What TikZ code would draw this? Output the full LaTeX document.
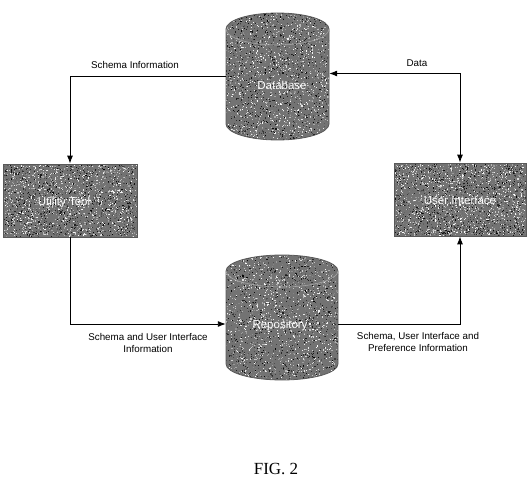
\documentclass[tikz,border=0pt]{standalone}
\usepackage{fontspec}
\setmainfont{Liberation Sans}
\newfontfamily\figfont{Liberation Serif}
\usetikzlibrary{arrows.meta}
\newcommand{\speckle}[4]{%
  \foreach \k in {1,...,2600}{%
    \pgfmathsetmacro\px{#1+rnd*#3}%
    \pgfmathsetmacro\py{#2+rnd*#4}%
    \pgfmathtruncatemacro\gv{rnd*100}%
    \fill[black!\gv] (\px,\py) rectangle ++(1.1,1.1);
  }}
\begin{document}
\begin{tikzpicture}[x=1pt,y=-1pt,
  lbl/.style={font=\fontsize{9.8}{12.5}\selectfont, align=center, inner sep=0pt},
  inlbl/.style={font=\fontsize{11.5}{14}\selectfont, text=white, inner sep=0pt},
  boxnode/.style={rectangle, draw=black!65, line width=0.8pt, inner sep=0pt},
  cylnode/.style={rectangle, inner sep=0pt},
  arr/.style={line width=0.9pt, -{Latex[length=8pt,width=6pt]}},
  darr/.style={line width=0.9pt, {Latex[length=8pt,width=6pt]}-{Latex[length=8pt,width=6pt]}},
  base/.style={fill=black!55}
]
\useasboundingbox (0,0) rectangle (531,484);
\pgfmathsetseed{7}

% Database cylinder texture
\begin{scope}
  \clip (226,29) -- (226,124) arc[start angle=180,end angle=360,x radius=51.5pt,y radius=16pt]
        -- (329,29) arc[start angle=0,end angle=180,x radius=51.5pt,y radius=16pt] -- cycle;
  \fill[base] (220,10) rectangle (335,145);
  \speckle{224}{11}{107}{131}
\end{scope}
\draw[black!65, line width=0.8pt] (226,29) -- (226,124) arc[start angle=180,end angle=360,x radius=51.5pt,y radius=16pt]
        -- (329,29) arc[start angle=0,end angle=180,x radius=51.5pt,y radius=16pt] -- cycle;
\draw[black!35, line width=0.6pt] (226,29) arc[start angle=180,end angle=360,x radius=51.5pt,y radius=16pt];

% Repository cylinder texture
\begin{scope}
  \clip (226,271) -- (226,364) arc[start angle=180,end angle=360,x radius=56pt,y radius=16pt]
        -- (338,271) arc[start angle=0,end angle=180,x radius=56pt,y radius=16pt] -- cycle;
  \fill[base] (220,250) rectangle (345,385);
  \speckle{224}{253}{116}{129}
\end{scope}
\draw[black!65, line width=0.8pt] (226,271) -- (226,364) arc[start angle=180,end angle=360,x radius=56pt,y radius=16pt]
        -- (338,271) arc[start angle=0,end angle=180,x radius=56pt,y radius=16pt] -- cycle;
\draw[black!35, line width=0.6pt] (226,271) arc[start angle=180,end angle=360,x radius=56pt,y radius=16pt];

% Box textures
\fill[base] (3,164) rectangle (137,237);
\speckle{3}{164}{132.9}{71.9}
\fill[base] (394,163) rectangle (526,236);
\speckle{394}{163}{130.9}{71.9}

% Nodes
\node[cylnode, minimum width=103pt, minimum height=127pt] (db) at (277.5,76.5) {};
\node[cylnode, minimum width=112pt, minimum height=125pt] (rep) at (282,317.5) {};
\node[boxnode, minimum width=134pt, minimum height=73pt] (ut) at (70,200.5) {};
\node[boxnode, minimum width=132pt, minimum height=73pt] (ui) at (460,199.5) {};
\node[inlbl] (dbt) at (282,85) {Database};
\node[inlbl] (rept) at (280,326) {Repository};
\node[inlbl] (utt) at (64,203) {Utility Tool};
\node[inlbl] (uit) at (460,200) {User Interface};

% Connectors
\draw[arr] (db.west) -| (ut.north);
\draw[darr] (ui.north) |- ([yshift=3pt]db.east);
\draw[arr] (ut.south) |- ([yshift=-6.5pt]rep.west);
\draw[arr] ([yshift=-6.5pt]rep.east) -| (ui.south);

% Labels
\node[lbl] (l1) at (135,65) {Schema Information};
\node[lbl] (l2) at (417,63) {Data};
\node[lbl] (l3) at (148,343) {Schema and User Interface\\Information};
\node[lbl] (l4) at (418,342) {Schema, User Interface and\\Preference Information};
\node[font=\figfont\fontsize{17}{20}\selectfont, inner sep=0pt] (fig) at (276,469) {FIG. 2};
\end{tikzpicture}
\end{document}
